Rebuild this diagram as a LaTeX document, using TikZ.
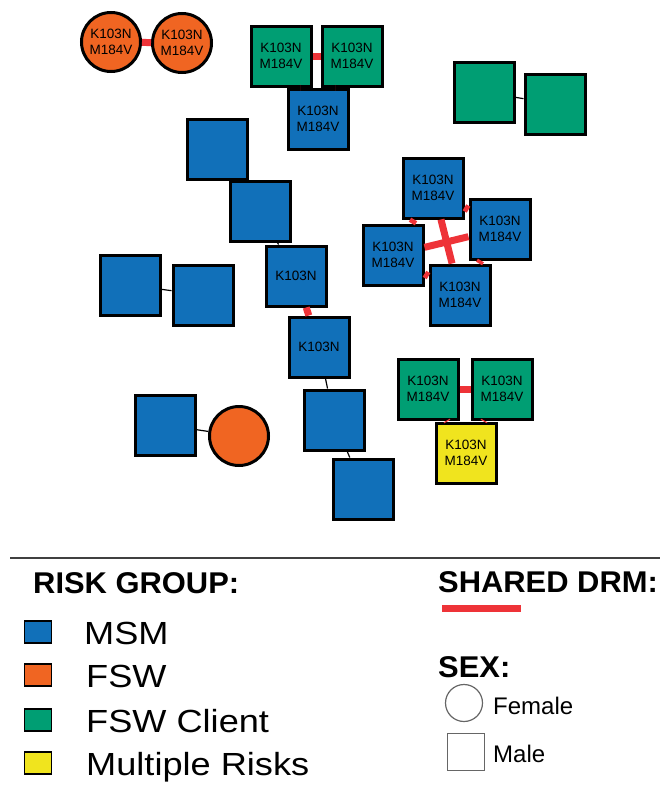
\documentclass[tikz,border=0pt]{standalone}
\usepackage{fontspec}
\setmainfont{Liberation Sans}
\definecolor{msm}{RGB}{17,112,185}
\definecolor{fsw}{RGB}{240,101,34}
\definecolor{client}{RGB}{0,158,115}
\definecolor{multi}{RGB}{240,228,30}
\definecolor{drm}{RGB}{238,51,56}
\tikzset{
  male/.style={draw=black, line width=3pt, minimum size=60pt, inner sep=0pt, align=center, font=\fontsize{13.5}{16}\selectfont},
  female/.style={male, circle, minimum size=59pt},
  shared/.style={draw=drm, line width=7pt},
  link/.style={draw=black, line width=1.2pt},
  key/.style={draw=black, line width=1.5pt, minimum width=27pt, minimum height=22pt, inner sep=0pt},
  keytext/.style={anchor=base west, inner sep=0pt, xscale=1.13, transform shape, font=\fontsize{32}{38}\selectfont},
  heading/.style={anchor=base west, inner sep=0pt, xscale=1.03, transform shape, font=\fontsize{30}{34}\selectfont\bfseries},
  sexkey/.style={draw=black!60, line width=1.2pt, minimum size=37pt, inner sep=0pt},
  sextext/.style={anchor=base west, inner sep=0pt, font=\fontsize{24}{28}\selectfont},
}
\begin{document}
\begin{tikzpicture}[x=1pt, y=-1pt]
      \useasboundingbox (0,0) rectangle (660,790);
      %FSW pair
      \node[female, fill=fsw] (o1) at (111,42) {K103N\\M184V};
      \node[female, fill=fsw] (o2) at (182,43) {K103N\\M184V};
      \draw[shared] (o1) -- (o2);
      %Client trio (top)
      \node[male, fill=client] (g1) at (281,56) {K103N\\M184V};
      \node[male, fill=client] (g2) at (352,56) {K103N\\M184V};
      \node[male, fill=msm] (b1) at (318,119) {K103N\\M184V};
      \draw[shared] (g1) -- (g2);
      \draw[shared] (g2) -- (b1);
      \draw[shared] (g1) -- (b1);
      %Client pair
      \node[male, fill=client] (g3) at (484,92) {};
      \node[male, fill=client] (g4) at (555,104) {};
      \draw[link] (g3) -- (g4);
      %MSM chain
      \node[male, fill=msm] (c1) at (217,149) {};
      \node[male, fill=msm] (c2) at (260,211) {};
      \node[male, fill=msm] (c3) at (296,276) {K103N};
      \node[male, fill=msm] (c4) at (319,347) {K103N};
      \node[male, fill=msm] (c5) at (334,420) {};
      \node[male, fill=msm] (c6) at (363,489) {};
      \draw[link] (c1) -- (c2);
      \draw[link] (c2) -- (c3);
      \draw[shared] (c3) -- (c4);
      \draw[link] (c4) -- (c5);
      \draw[link] (c5) -- (c6);
      %MSM pair
      \node[male, fill=msm] (p1) at (130,285) {};
      \node[male, fill=msm] (p2) at (203,295) {};
      \draw[link] (p1) -- (p2);
      %MSM and FSW
      \node[male, fill=msm] (p3) at (165,425) {};
      \node[female, fill=fsw] (p4) at (239,436) {};
      \draw[link] (p3) -- (p4);
      %MSM cluster of four
      \node[male, fill=msm] (k1) at (433,188) {K103N\\M184V};
      \node[male, fill=msm] (k2) at (500,229) {K103N\\M184V};
      \node[male, fill=msm] (k3) at (393,255) {K103N\\M184V};
      \node[male, fill=msm] (k4) at (460,295) {K103N\\M184V};
      \draw[shared] (k1) -- (k4);
      \draw[shared] (k3) -- (k2);
      \draw[shared] (k1) -- (k2);
      \draw[shared] (k1) -- (k3);
      \draw[shared] (k3) -- (k4);
      \draw[shared] (k2) -- (k4);
      %Client trio (bottom)
      \node[male, fill=client] (t1) at (428,389) {K103N\\M184V};
      \node[male, fill=client] (t2) at (502,389) {K103N\\M184V};
      \node[male, fill=multi] (y1) at (466,453) {K103N\\M184V};
      \draw[shared] (t1) -- (t2);
      \draw[shared] (t1) -- (y1);
      \draw[shared] (t2) -- (y1);

      %Legend
      \coordinate (rulel) at (10,558);
      \coordinate (ruler) at (660,558);
      \draw[black!75, line width=2pt] (rulel) -- (ruler);
      \node[heading] (riskhead) at (33,593) {RISK GROUP:};
      \node[key, fill=msm] (kmsm) at (38,632) {};
      \node[key, fill=fsw] (kfsw) at (38,675) {};
      \node[key, fill=client] (kclient) at (38,720) {};
      \node[key, fill=multi] (kmulti) at (38,763) {};
      \node[keytext] (tmsm) at (84,644) {MSM};
      \node[keytext] (tfsw) at (86,687) {FSW};
      \node[keytext] (tclient) at (86,732) {FSW Client};
      \node[keytext] (tmulti) at (86,775) {Multiple Risks};
      \node[heading] (drmhead) at (438,592) {SHARED DRM:};
      \coordinate (drml) at (442,608);
      \coordinate (drmr) at (521,608);
      \draw[shared] (drml) -- (drmr);
      \node[heading] (sexhead) at (438,677) {SEX:};
      \node[sexkey, circle] (kfemale) at (464,703) {};
      \node[sexkey] (kmale) at (466,752) {};
      \node[sextext] (tfemale) at (493,714) {Female};
      \node[sextext] (tmale) at (493,762) {Male};
\end{tikzpicture}
\end{document}
